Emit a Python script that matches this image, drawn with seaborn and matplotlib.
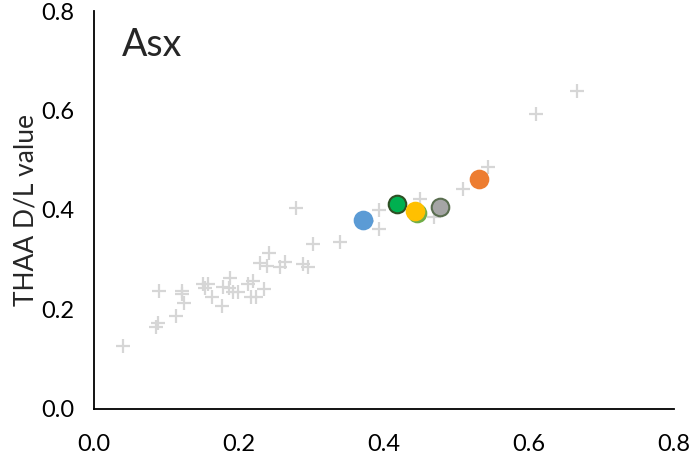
import matplotlib
matplotlib.use("Agg")
import matplotlib.pyplot as plt
import seaborn as sns
import pandas as pd

# background THAA data (grey crosses)
bg_x = [0.040, 0.085, 0.088, 0.090, 0.113, 0.122, 0.121, 0.124, 0.150, 0.157,
        0.153, 0.163, 0.176, 0.178, 0.188, 0.186, 0.192, 0.198, 0.212, 0.219,
        0.216, 0.224, 0.234, 0.229, 0.238, 0.241, 0.256, 0.263, 0.279, 0.288,
        0.295, 0.302, 0.340, 0.377, 0.393, 0.393, 0.450, 0.469, 0.509, 0.544,
        0.610, 0.667]
bg_y = [0.127, 0.164, 0.173, 0.237, 0.187, 0.238, 0.232, 0.214, 0.252, 0.252,
        0.243, 0.226, 0.207, 0.245, 0.264, 0.243, 0.236, 0.236, 0.252, 0.258,
        0.226, 0.226, 0.241, 0.294, 0.288, 0.313, 0.285, 0.295, 0.404, 0.291,
        0.286, 0.332, 0.336, 0.378, 0.399, 0.362, 0.422, 0.386, 0.443, 0.486,
        0.592, 0.639]

# highlighted samples
pt_x = [0.371, 0.446, 0.418, 0.443, 0.478, 0.531]
pt_y = [0.380, 0.393, 0.412, 0.397, 0.406, 0.462]
pt_fill = ["#5b9bd5", "#70ad47", "#00b050", "#ffc000", "#a5a5a5", "#ed7d31"]
pt_edge = ["#5b9bd5", "#70ad47", "#2f4f24", "#ffc000", "#5a6e50", "#ed7d31"]

sns.set_style("white")
plt.rcParams["font.family"] = ["Lato", "DejaVu Sans"]

fig = plt.figure(figsize=(6.94, 4.59), dpi=100)
ax = fig.add_axes([0.1355, 0.109, 0.8355, 0.867])

bg = pd.DataFrame({"x": bg_x, "y": bg_y})
sns.scatterplot(data=bg, x="x", y="y", marker="+", s=110, color="#d6d6d6",
                linewidth=1.6, ax=ax, zorder=2)

for i in range(len(pt_x)):
    sns.scatterplot(x=[pt_x[i]], y=[pt_y[i]], s=160, color=pt_fill[i],
                    edgecolor=pt_edge[i], linewidth=1.5, ax=ax, zorder=3 + i)

ax.set_xlim(0, 0.8)
ax.set_ylim(0, 0.8)
ax.set_xticks([0.0, 0.2, 0.4, 0.6, 0.8])
ax.set_yticks([0.0, 0.2, 0.4, 0.6, 0.8])
ax.set_xticklabels(["0.0", "0.2", "0.4", "0.6", "0.8"])
ax.set_yticklabels(["0.0", "0.2", "0.4", "0.6", "0.8"])
ax.tick_params(axis="both", direction="out", length=6, width=1.3,
               labelsize=17, colors="black", pad=8)
ax.tick_params(axis="x", pad=12)
for side in ["top", "right"]:
    ax.spines[side].set_visible(False)
for side in ["left", "bottom"]:
    ax.spines[side].set_color("black")
    ax.spines[side].set_linewidth(1.3)

ax.set_xlabel("")
ax.set_ylabel("THAA D/L value", fontsize=19, labelpad=2)
ax.text(0.048, 0.915, "Asx", transform=ax.transAxes, fontsize=27,
        va="center", ha="left")

fig.savefig("out.png", dpi=100)
